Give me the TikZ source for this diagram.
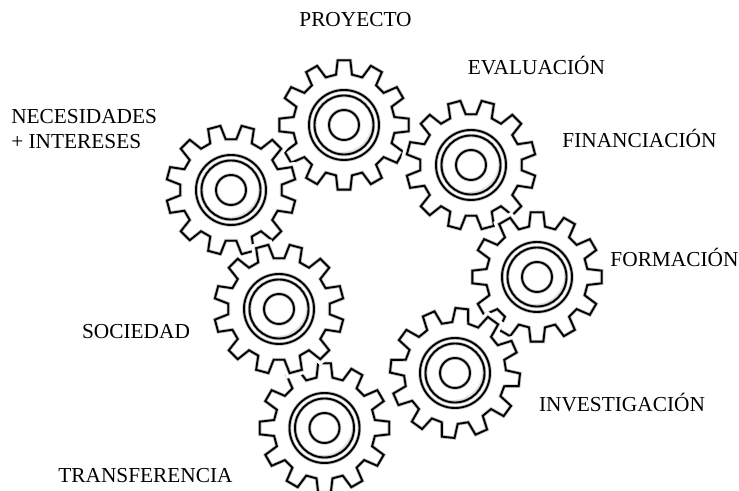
\documentclass[tikz,border=0pt]{standalone}
\usepackage{fontspec}
\setmainfont{Liberation Serif}

\tikzset{
  gearline/.style={line width=1.4pt,line join=miter,preaction={draw=black!25,line width=2.6pt}},
  gearhalo/.style={draw=white,fill=white,line width=7pt},
  gearlabel/.style={font=\fontsize{16}{18.75}\selectfont,text height=10.5pt,text depth=0pt,inner sep=0pt},
  gearlabels/.style={font=\fontsize{16}{18.75}\selectfont,align=left,inner sep=0pt}
}

\begin{document}
\begin{tikzpicture}[x=0.75pt,y=0.75pt]

\useasboundingbox (0,0) rectangle (739,491);

% gears, lowest in the stack first
\foreach \cx/\cy/\rot in {344/366/0, 471/326/15, 537/214/0, 455/118/-6, 231/301/15, 324.5/63/0, 279/182/15}{
  \begin{scope}[shift={(\cx,\cy)},rotate=\rot]
    % white edge that breaks the gear below
    \path[gearhalo] (-9:51) \foreach \a in {0,30,...,330}{ -- (\a-9:51) -- (\a-5.6:65) -- (\a+5.6:65) -- (\a+9:51)} -- cycle;
    % teeth
    \draw[gearline] (-9:51) \foreach \a in {0,30,...,330}{ -- (\a-9:51) -- (\a-5.6:65) -- (\a+5.6:65) -- (\a+9:51)} -- cycle;
  \end{scope}
  % hub
  \fill[black!10] (\cx,\cy) circle (30);
  \fill[white] (\cx-2.5,\cy+3) circle (30);
  \draw[gearline] (\cx,\cy) circle (35);
  \draw[gearline] (\cx,\cy) circle (29.5);
  \draw[gearline] (\cx,\cy) circle (15);
}

% labels
\node[gearlabel] (proyecto) at (355.5,471) {PROYECTO};
\node[gearlabel] (evaluacion) at (536.5,423.5) {EVALUACIÓN};
\node[gearlabel] (financiacion) at (639.5,350.5) {FINANCIACIÓN};
\node[gearlabel] (formacion) at (674.5,231.5) {FORMACIÓN};
\node[gearlabel] (investigacion) at (622,86.5) {INVESTIGACIÓN};
\node[gearlabel] (sociedad) at (136,159) {SOCIEDAD};
\node[gearlabel] (transferencia) at (145.5,15.5) {TRANSFERENCIA};
\node[gearlabels,anchor=west] (necesidades) at (11,361.5) {NECESIDADES\\+ INTERESES};

\end{tikzpicture}
\end{document}
